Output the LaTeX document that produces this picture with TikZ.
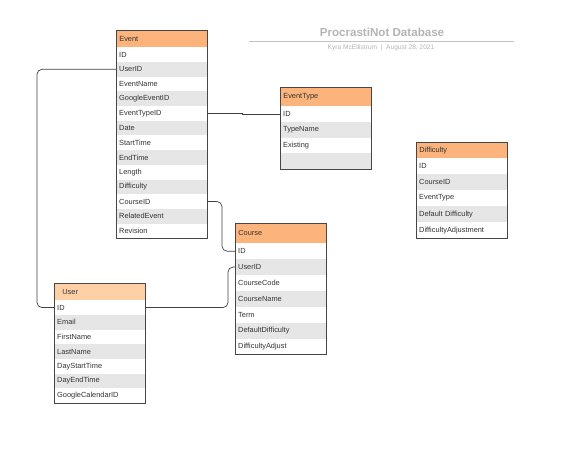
\documentclass[tikz,border=0pt]{standalone}
\usepackage{fontspec}
\setmainfont{Liberation Sans}
\definecolor{hdrorange}{RGB}{252,180,124}
\definecolor{hdrpeach}{RGB}{255,208,166}
\definecolor{rowgray}{RGB}{230,230,230}
\definecolor{tblline}{RGB}{70,70,70}
\definecolor{txtgray}{RGB}{51,51,51}
\definecolor{titlegray}{RGB}{180,180,180}
\tikzset{
	cell/.style={anchor=north west, minimum width=91pt, text width=85pt, inner xsep=3pt, inner ysep=0pt, align=left, text=txtgray, font=\fontsize{7.4}{8}\selectfont},
	hdr/.style={cell, draw=tblline, line width=0.7pt, fill=hdrorange},
	row/.style={cell},
	outline/.style={draw=tblline, line width=0.8pt},
	link/.style={draw=black!75, line width=0.7pt, rounded corners=5pt}
}

\begin{document}
\begin{tikzpicture}[x=1pt,y=-1pt]
		\useasboundingbox (0,0) rectangle (585,448);
		%draw title
		\node[text=titlegray, font=\bfseries\fontsize{11.6}{13}\selectfont] (title) at (382,32) {ProcrastiNot Database};
		\draw[titlegray!80, line width=1pt] (249,41) -- (514,41);
		\node[text=titlegray, font=\fontsize{6.6}{7}\selectfont] (sub) at (381,47.5) {Kyra McEllistrum \ | \ August 28, 2021};
		
		%draw Event table
		\node[hdr, minimum height=17pt] (ev0) at (116,30) {Event};
		\foreach \t [count=\i] in {ID,UserID,EventName,GoogleEventID,EventTypeID,Date,StartTime,EndTime,Length,Difficulty,CourseID,RelatedEvent,Revision}{
			\ifodd\i \def\rowfill{white}\else\def\rowfill{rowgray}\fi
			\node[row, fill=\rowfill, minimum height=14.7pt] (ev\i) at (116,{47+(\i-1)*14.7}) {\t};
		}
		\draw[outline] (ev0.north west) rectangle (ev13.south east);
		
		%draw EventType table
		\node[hdr, minimum height=19pt] (et0) at (280,87) {EventType};
		\foreach \t [count=\i] in {ID,TypeName,Existing,{}}{
			\ifodd\i \def\rowfill{white}\else\def\rowfill{rowgray}\fi
			\node[row, fill=\rowfill, minimum height=15.75pt] (et\i) at (280,{106+(\i-1)*15.75}) {\t};
		}
		\draw[outline] (et0.north west) rectangle (et4.south east);
		
		%draw Difficulty table
		\node[hdr, minimum height=16pt] (di0) at (416,142) {Difficulty};
		\foreach \t [count=\i] in {ID,CourseID,EventType,Default Difficulty,DifficultyAdjustment}{
			\ifodd\i \def\rowfill{white}\else\def\rowfill{rowgray}\fi
			\node[row, fill=\rowfill, minimum height=16pt] (di\i) at (416,{158+(\i-1)*16}) {\t};
		}
		\draw[outline] (di0.north west) rectangle (di5.south east);
		
		%draw Course table
		\node[hdr, minimum height=20pt] (co0) at (235,223) {Course};
		\foreach \t [count=\i] in {ID,UserID,CourseCode,CourseName,Term,DefaultDifficulty,DifficultyAdjust}{
			\ifodd\i \def\rowfill{white}\else\def\rowfill{rowgray}\fi
			\node[row, fill=\rowfill, minimum height=15.9pt] (co\i) at (235,{243+(\i-1)*15.9}) {\t};
		}
		\draw[outline] (co0.north west) rectangle (co7.south east);
		
		%draw User table
		\node[hdr, fill=hdrpeach, minimum height=17pt] (us0) at (54,283) {\hspace*{5pt}User};
		\foreach \t [count=\i] in {ID,Email,FirstName,LastName,DayStartTime,DayEndTime,GoogleCalendarID}{
			\ifodd\i \def\rowfill{white}\else\def\rowfill{rowgray}\fi
			\node[row, fill=\rowfill, minimum height=14.7pt] (us\i) at (54,{300+(\i-1)*14.7}) {\t};
		}
		\draw[outline] (us0.north west) rectangle (us7.south east);
		
		%draw links
		\draw[link] (ev2.west) -| ([xshift=-17pt]us1.west) -- (us1.west);
		\draw[link] (us1.east) -| ([xshift=-7pt]co2.west) -- (co2.west);
		\draw[link] (ev11.east) -| ([xshift=-13pt]co1.west) -- (co1.west);
		\draw[link, rounded corners=0pt] (ev5.east) -- ++(35,0) |- (et1.west);
		
		\end{tikzpicture}
\end{document}
